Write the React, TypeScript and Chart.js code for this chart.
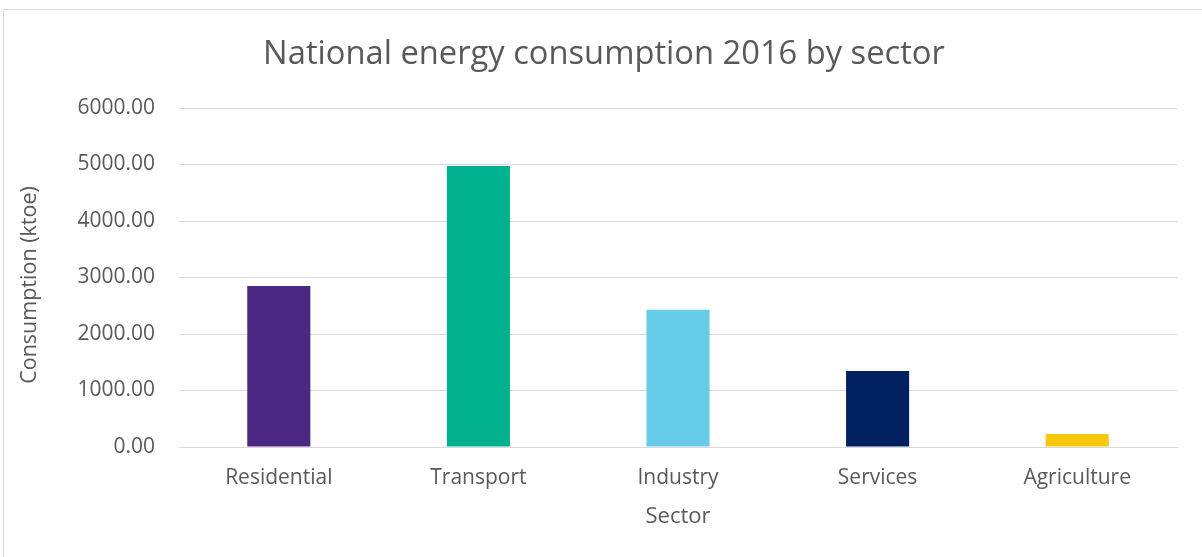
import React, { useEffect, useRef } from "react";
import { Chart, registerables } from "chart.js";

Chart.register(...registerables);

const categories = ["Residential", "Transport", "Industry", "Services", "Agriculture"];
const consumption = [2850, 4975, 2430, 1345, 230];
const barColors = ["#4B2884", "#00B08F", "#66CCEA", "#002060", "#F9C80E"];
const yTicks = [0, 1000, 2000, 3000, 4000, 5000, 6000];
const chartTitle = "National energy consumption 2016 by sector";
const xTitle = "Sector";
const yTitle = "Consumption (ktoe)";

const FONT = "'Open Sans', 'Noto Sans', sans-serif";
const TEXT = "#595959";

const textPlugin = {
  id: "customTexts",
  afterDraw(chart: any) {
    const c = chart.ctx;
    const area = chart.chartArea;
    c.save();
    c.fillStyle = TEXT;
    c.textAlign = "center";
    c.textBaseline = "middle";
    c.font = `32.7px ${FONT}`;
    c.fillText(chartTitle, 604, 55);
    c.font = `22px ${FONT}`;
    c.fillText(xTitle, (area.left + area.right) / 2, 517);
    c.translate(30, 285);
    c.rotate(-Math.PI / 2);
    c.font = `21.5px ${FONT}`;
    c.fillText(yTitle, 0, 0);
    c.restore();
  },
};

export default function App() {
  const ref = useRef<HTMLCanvasElement | null>(null);

  useEffect(() => {
    document.body.style.margin = "0";
    document.body.style.overflow = "hidden";
    const ctx = ref.current!.getContext("2d")!;
    const chart = new Chart(ctx, {
      type: "bar",
      data: {
        labels: categories,
        datasets: [
          {
            data: consumption,
            backgroundColor: barColors,
            categoryPercentage: 1,
            barPercentage: 0.316,
          },
        ],
      },
      options: {
        animation: false,
        responsive: false,
        maintainAspectRatio: false,
        layout: { padding: { left: 0, right: 25, top: 108, bottom: 0 } },
        plugins: {
          legend: { display: false },
          tooltip: { enabled: false },
          title: { display: false },
        },
        scales: {
          x: {
            grid: { display: false, drawTicks: false },
            border: { display: true, color: "#d9d9d9", width: 1 },
            ticks: { color: TEXT, font: { family: FONT, size: 21 }, padding: 18 },
            afterFit: (s: any) => {
              s.height = 110;
            },
          },
          y: {
            min: 0,
            max: 6000,
            afterBuildTicks: (s: any) => {
              s.ticks = yTicks.map((v) => ({ value: v }));
            },
            grid: { color: "#d9d9d9", lineWidth: 1, drawTicks: false },
            border: { display: false },
            ticks: {
              color: TEXT,
              font: { family: FONT, size: 21 },
              padding: 24,
              callback: (v: any) => Number(v).toFixed(2),
            },
            afterFit: (s: any) => {
              s.width = 179;
            },
          },
        },
      },
      plugins: [textPlugin],
    });
    return () => chart.destroy();
  }, []);

  return (
    <div style={{ position: "relative", width: 1202, height: 557, overflow: "hidden", background: "#fff" }}>
      <div
        style={{
          position: "absolute",
          left: 3,
          top: 9,
          width: 1300,
          height: 700,
          border: "1px solid #d9d9d9",
          boxSizing: "border-box",
        }}
      />
      <canvas ref={ref} width={1202} height={557} style={{ position: "absolute", left: 0, top: 0 }} />
    </div>
  );
}
